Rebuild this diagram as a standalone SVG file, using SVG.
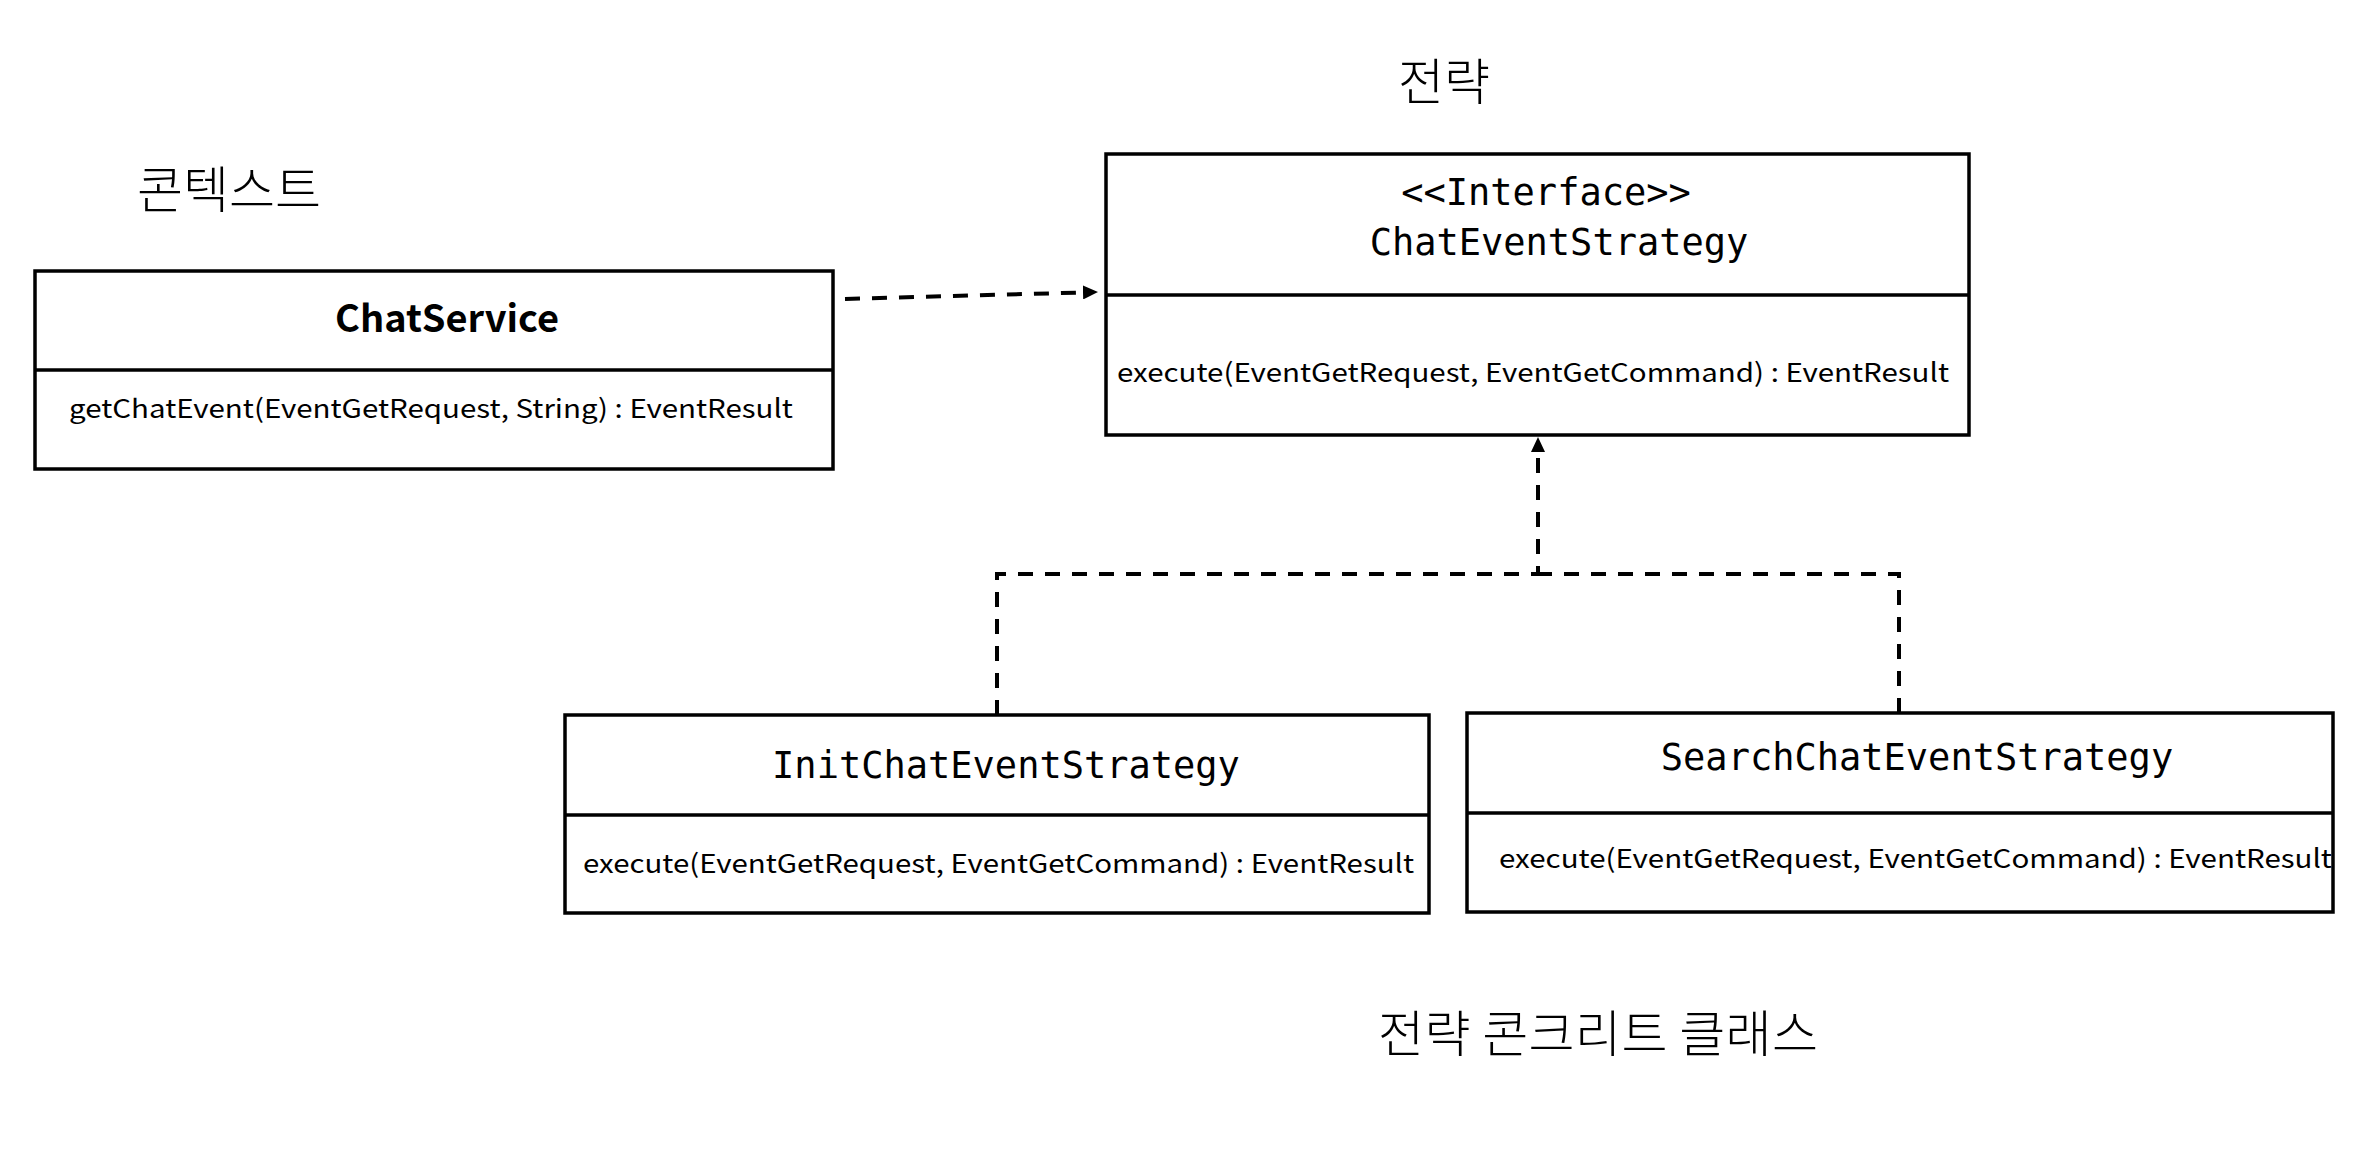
<svg xmlns="http://www.w3.org/2000/svg" width="2357" height="1162" viewBox="0 0 2357 1162">
<style>
.box{fill:#fff;stroke:#000;stroke-width:3.5}
.div{stroke:#000;stroke-width:3.5}
.mono{font-family:"DejaVu Sans Mono",monospace;font-size:37px;fill:#000}
.meth{font-family:"Noto Sans CJK KR","Liberation Sans",sans-serif;font-size:26px;fill:#000}
.bold{font-family:"Noto Sans CJK KR","Liberation Sans",sans-serif;font-size:38px;font-weight:bold;fill:#000}
.ko{font-family:"Noto Sans CJK KR",sans-serif;font-size:50px;font-weight:300;fill:#000}
.dash{fill:none;stroke:#000;stroke-width:4;stroke-dasharray:15 12}
</style>
<defs>
<marker id="arr" viewBox="0 0 15 14" refX="5" refY="7" markerWidth="15" markerHeight="14" markerUnits="userSpaceOnUse" orient="auto">
<path d="M0,0 L15,7 L0,14 z" fill="#000"/>
</marker>
</defs>
<rect width="2357" height="1162" fill="#fff"/>
<g id="labels">
<text class="ko" x="229" y="208" text-anchor="middle">콘텍스트</text>
<text class="ko" x="1444" y="100" text-anchor="middle">전략</text>
<text class="ko" x="1598" y="1052" text-anchor="middle" textLength="440" lengthAdjust="spacing">전략 콘크리트 클래스</text>
</g>
<g id="connectors">
<path class="dash" d="M845,299 L1088,292.3" marker-end="url(#arr)"/>
<path class="dash" d="M997,715 V574 H1538 V447" marker-end="url(#arr)"/>
<path class="dash" d="M1899,713 V574 H1538"/>
</g>
<g id="ChatService">
<rect class="box" x="35" y="271" width="798" height="198"/>
<line class="div" x1="35" y1="370" x2="833" y2="370"/>
<text class="bold" x="447" y="332" text-anchor="middle" textLength="224" lengthAdjust="spacingAndGlyphs">ChatService</text>
<text class="meth" x="69" y="418" textLength="724" lengthAdjust="spacingAndGlyphs">getChatEvent(EventGetRequest, String) : EventResult</text>
</g>
<g id="ChatEventStrategy">
<rect class="box" x="1106" y="154" width="863" height="281"/>
<line class="div" x1="1106" y1="295" x2="1969" y2="295"/>
<text class="mono" x="1546" y="205" text-anchor="middle">&lt;&lt;Interface&gt;&gt;</text>
<text class="mono" x="1559" y="255" text-anchor="middle">ChatEventStrategy</text>
<text class="meth" x="1117" y="382" textLength="832" lengthAdjust="spacingAndGlyphs">execute(EventGetRequest, EventGetCommand) : EventResult</text>
</g>
<g id="InitChatEventStrategy">
<rect class="box" x="565" y="715" width="864" height="198"/>
<line class="div" x1="565" y1="815" x2="1429" y2="815"/>
<text class="mono" x="1006" y="778" text-anchor="middle">InitChatEventStrategy</text>
<text class="meth" x="583" y="873" textLength="831" lengthAdjust="spacingAndGlyphs">execute(EventGetRequest, EventGetCommand) : EventResult</text>
</g>
<g id="SearchChatEventStrategy">
<rect class="box" x="1467" y="713" width="866" height="199"/>
<line class="div" x1="1467" y1="813" x2="2333" y2="813"/>
<text class="mono" x="1917" y="770" text-anchor="middle">SearchChatEventStrategy</text>
<text class="meth" x="1499" y="868" textLength="833" lengthAdjust="spacingAndGlyphs">execute(EventGetRequest, EventGetCommand) : EventResult</text>
</g>
</svg>
